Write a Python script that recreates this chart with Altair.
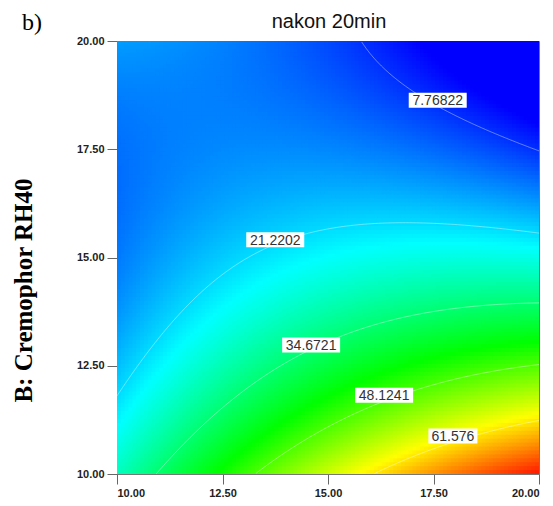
import numpy as np
import pandas as pd
import altair as alt

# ---- values ----
x_ticks = [10.0, 12.5, 15.0, 17.5, 20.0]
y_ticks = [10.0, 12.5, 15.0, 17.5, 20.0]

contour_levels = [7.76822, 21.2202, 34.6721, 48.1241, 61.576]

# points (A, B) and the level they belong to
trace_level = [7.76822, 7.76822, 7.76822,
               21.2202, 21.2202, 21.2202, 21.2202, 21.2202, 21.2202,
               34.6721, 34.6721, 34.6721, 34.6721, 34.6721, 34.6721,
               48.1241, 48.1241, 48.1241, 48.1241, 48.1241, 48.1241,
               61.576, 61.576, 61.576]
trace_a = [15.81, 17.60, 20.00,
           10.00, 11.84, 14.34, 15.41, 16.96, 20.00,
           10.93, 12.63, 14.60, 15.30, 17.52, 20.00,
           13.40, 14.35, 15.41, 16.33, 18.31, 20.00,
           16.24, 17.96, 20.00]
trace_b = [20.00, 18.63, 17.47,
           11.91, 13.95, 15.38, 15.64, 15.68, 15.50,
           10.00, 11.72, 12.98, 13.23, 13.78, 13.98,
           10.00, 10.68, 11.25, 11.82, 12.21, 12.53,
           10.00, 10.88, 11.19]

label_text = ["7.76822", "21.2202", "34.6721", "48.1241", "61.576"]
label_a = [17.60, 13.75, 14.60, 16.33, 17.96]
label_b = [18.63, 15.41, 12.98, 11.82, 10.88]

chart_title = "nakon 20min"
panel_tag = "b)"
y_title = "B: Cremophor RH40"

color_stops = [4, 24, 43, 60, 77]
color_hex = ["#0000ff", "#00ffff", "#00ff00", "#ffff00", "#ff0000"]

# ---- response surface (quadratic model fitted to the contour readings) ----
ta = (np.array(trace_a) - 15) / 5
tb = (np.array(trace_b) - 15) / 5
M = np.column_stack([np.ones_like(ta), ta, tb, ta * tb, ta ** 2, tb ** 2])
coef, *_ = np.linalg.lstsq(M, np.array(trace_level), rcond=None)


def surface(A, B):
    a = (A - 15) / 5
    b = (B - 15) / 5
    return (coef[0] + coef[1] * a + coef[2] * b + coef[3] * a * b
            + coef[4] * a ** 2 + coef[5] * b ** 2)


n = 110
d = 10.0 / n
edges = 10 + d * np.arange(n)
AA, BB = np.meshgrid(edges, edges)
A0 = AA.ravel()
B0 = BB.ravel()
cells = pd.DataFrame({
    "x0": A0,
    "x1": np.minimum(A0 + d * 1.35, 20.0),
    "y0": B0,
    "y1": np.minimum(B0 + d * 1.35, 20.0),
    "v": surface(A0 + d / 2, B0 + d / 2),
})

# contour lines traced on the surface
rows = []
col_a = np.linspace(10, 20, 301)
fine_b = np.linspace(10, 20, 1201)
for lev in contour_levels:
    for A in col_a:
        vals = surface(A, fine_b) - lev
        s = np.where(np.sign(vals[:-1]) != np.sign(vals[1:]))[0]
        if len(s):
            i = s[0]
            t = vals[i] / (vals[i] - vals[i + 1])
            rows.append({"A": A, "B": fine_b[i] + t * (fine_b[i + 1] - fine_b[i]), "level": lev})
lines = pd.DataFrame(rows)

labels = pd.DataFrame({"t": label_text, "A": label_a, "B": label_b})
labels["n"] = labels["t"].str.len()

xs = alt.Scale(domain=[10, 20], nice=False, zero=False)
ys = alt.Scale(domain=[10, 20], nice=False, zero=False)

axis_common = dict(
    format=".2f", grid=False,
    labelFont="Liberation Sans", labelFontWeight="bold", labelFontSize=11,
    labelColor="#222222", tickColor="#666666", domainColor="#777777",
    tickSize=10, labelPadding=3,
)

heat = alt.Chart(cells).mark_rect(strokeWidth=0).encode(
    x=alt.X("x0:Q", scale=xs, axis=alt.Axis(title=None, values=x_ticks, **axis_common)),
    x2="x1:Q",
    y=alt.Y("y0:Q", scale=ys, axis=alt.Axis(
        title=y_title, titleFont="Liberation Serif", titleFontSize=25,
        titleFontWeight="bold", titleColor="#000000", titleX=-94, titleY=249,
        titleAngle=270, titleAlign="center", titleBaseline="middle",
        values=y_ticks, **axis_common)),
    y2="y1:Q",
    color=alt.Color("v:Q", scale=alt.Scale(domain=color_stops, range=color_hex,
                                           clamp=True, interpolate="rgb"), legend=None),
)

contours = alt.Chart(lines).mark_line(color="white", opacity=0.38, strokeWidth=1).encode(
    x=alt.X("A:Q", scale=xs),
    y=alt.Y("B:Q", scale=ys),
    detail="level:N",
    order="A:Q",
)

box7 = alt.Chart(labels).transform_filter("datum.n == 7").mark_rect(
    width=58, height=15, color="white"
).encode(x=alt.X("A:Q", scale=xs), y=alt.Y("B:Q", scale=ys))
box6 = alt.Chart(labels).transform_filter("datum.n == 6").mark_rect(
    width=49, height=15, color="white"
).encode(x=alt.X("A:Q", scale=xs), y=alt.Y("B:Q", scale=ys))

texts = alt.Chart(labels).mark_text(
    font="Liberation Sans", fontSize=14, color="#333333", align="center", baseline="middle", dy=1
).encode(x=alt.X("A:Q", scale=xs), y=alt.Y("B:Q", scale=ys), text="t:N")

panel = alt.Chart(pd.DataFrame({"t": [panel_tag]})).mark_text(
    font="Liberation Serif", fontSize=24, align="left", baseline="alphabetic", color="#000000"
).encode(x=alt.value(-95), y=alt.value(-11), text="t:N")

title_txt = alt.Chart(pd.DataFrame({"t": [chart_title]})).mark_text(
    font="Liberation Sans", fontSize=20, align="center", baseline="alphabetic", color="#111111"
).encode(x=alt.value(212), y=alt.value(-13), text="t:N")

chart = alt.layer(heat, contours, box7, box6, texts, panel, title_txt).properties(
    width=422, height=433,
    autosize=alt.AutoSizeParams(type="none"),
    padding={"left": 109, "top": 33, "right": 6, "bottom": 25},
).configure_view(stroke="#777777", strokeWidth=1)

chart.save("out.html", embed_options={"renderer": "svg", "actions": False})
